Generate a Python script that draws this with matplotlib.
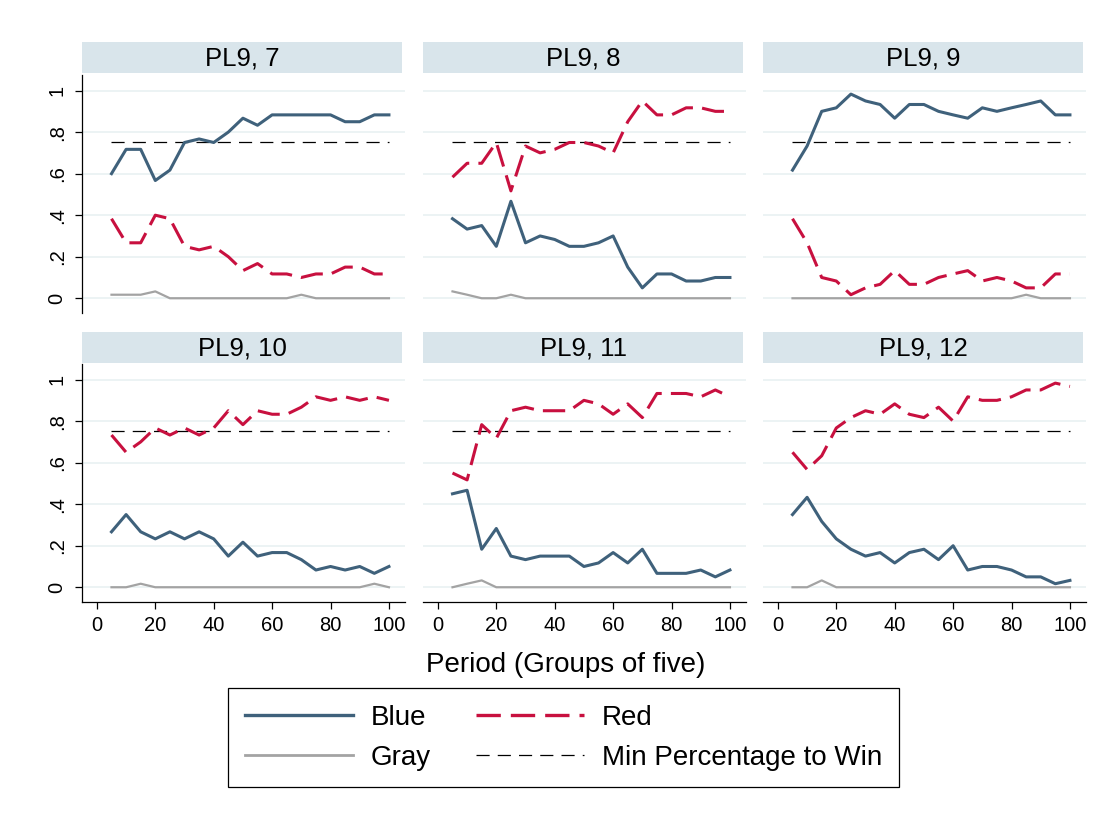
import matplotlib
matplotlib.use("Agg")
import matplotlib.pyplot as plt
from matplotlib.lines import Line2D

plt.rcParams['font.family'] = ['Liberation Sans', 'DejaVu Sans']

# ------------------------------
# data
# ------------------------------
period = [5, 10, 15, 20, 25, 30, 35, 40, 45, 50,
          55, 60, 65, 70, 75, 80, 85, 90, 95, 100]
panel_titles = ["PL9, 7", "PL9, 8", "PL9, 9", "PL9, 10", "PL9, 11", "PL9, 12"]
min_win = 0.75

blue = [
    [0.60, 0.717, 0.717, 0.567, 0.617, 0.75, 0.767, 0.75, 0.80, 0.867,
     0.833, 0.883, 0.883, 0.883, 0.883, 0.883, 0.85, 0.85, 0.883, 0.883],
    [0.383, 0.333, 0.35, 0.25, 0.467, 0.267, 0.30, 0.283, 0.25, 0.25,
     0.267, 0.30, 0.15, 0.05, 0.117, 0.117, 0.083, 0.083, 0.10, 0.10],
    [0.617, 0.733, 0.90, 0.917, 0.983, 0.95, 0.933, 0.867, 0.933, 0.933,
     0.90, 0.883, 0.867, 0.917, 0.90, 0.917, 0.933, 0.95, 0.883, 0.883],
    [0.267, 0.35, 0.267, 0.233, 0.267, 0.233, 0.267, 0.233, 0.15, 0.217,
     0.15, 0.167, 0.167, 0.133, 0.083, 0.10, 0.083, 0.10, 0.067, 0.10],
    [0.45, 0.467, 0.183, 0.283, 0.15, 0.133, 0.15, 0.15, 0.15, 0.10,
     0.117, 0.167, 0.117, 0.183, 0.067, 0.067, 0.067, 0.083, 0.05, 0.083],
    [0.35, 0.433, 0.317, 0.233, 0.183, 0.15, 0.167, 0.117, 0.167, 0.183,
     0.133, 0.20, 0.083, 0.10, 0.10, 0.083, 0.05, 0.05, 0.017, 0.033],
]
red = [
    [0.383, 0.267, 0.267, 0.40, 0.383, 0.25, 0.233, 0.25, 0.20, 0.133,
     0.167, 0.117, 0.117, 0.10, 0.117, 0.117, 0.15, 0.15, 0.117, 0.117],
    [0.583, 0.65, 0.65, 0.75, 0.517, 0.733, 0.70, 0.717, 0.75, 0.75,
     0.733, 0.70, 0.85, 0.95, 0.883, 0.883, 0.917, 0.917, 0.90, 0.90],
    [0.383, 0.267, 0.10, 0.083, 0.017, 0.05, 0.067, 0.133, 0.067, 0.067,
     0.10, 0.117, 0.133, 0.083, 0.10, 0.083, 0.05, 0.05, 0.117, 0.117],
    [0.733, 0.65, 0.70, 0.767, 0.733, 0.767, 0.733, 0.767, 0.85, 0.783,
     0.85, 0.833, 0.833, 0.867, 0.917, 0.90, 0.917, 0.90, 0.917, 0.90],
    [0.55, 0.517, 0.783, 0.717, 0.85, 0.867, 0.85, 0.85, 0.85, 0.90,
     0.883, 0.833, 0.883, 0.817, 0.933, 0.933, 0.933, 0.917, 0.95, 0.917],
    [0.65, 0.567, 0.633, 0.767, 0.817, 0.85, 0.833, 0.883, 0.833, 0.817,
     0.867, 0.80, 0.917, 0.90, 0.90, 0.917, 0.95, 0.95, 0.983, 0.967],
]
gray = [
    [0.017, 0.017, 0.017, 0.033, 0, 0, 0, 0, 0, 0,
     0, 0, 0, 0.017, 0, 0, 0, 0, 0, 0],
    [0.033, 0.017, 0, 0, 0.017, 0, 0, 0, 0, 0,
     0, 0, 0, 0, 0, 0, 0, 0, 0, 0],
    [0, 0, 0, 0, 0, 0, 0, 0, 0, 0,
     0, 0, 0, 0, 0, 0, 0.017, 0, 0, 0],
    [0, 0, 0.017, 0, 0, 0, 0, 0, 0, 0,
     0, 0, 0, 0, 0, 0, 0, 0, 0.017, 0],
    [0, 0.017, 0.033, 0, 0, 0, 0, 0, 0, 0,
     0, 0, 0, 0, 0, 0, 0, 0, 0, 0],
    [0, 0, 0.033, 0, 0, 0, 0, 0, 0, 0,
     0, 0, 0, 0, 0, 0, 0, 0, 0, 0],
]

yticks = [0, 0.2, 0.4, 0.6, 0.8, 1]
ytick_labels = ["0", ".2", ".4", ".6", ".8", "1"]
xticks = [0, 20, 40, 60, 80, 100]

# ------------------------------
# styles
# ------------------------------
C_BLUE = "#3f617b"
C_RED = "#c8103f"
C_GRAY = "#a3a3a3"
C_GRID = "#eaf2f3"
C_STRIP = "#d9e5eb"
RED_DASH = (7.3, 3.0)
MIN_DASH = (10.5, 6.5)

W, H = 1117, 816
fig = plt.figure(figsize=(W / 100, H / 100), dpi=100)


def px_axes(x0, y0, x1, y1):
    # pixel box (top-left origin) -> figure axes
    return fig.add_axes([x0 / W, 1 - y1 / H, (x1 - x0) / W, (y1 - y0) / H])


col_left = [82, 423, 763]
ax_w = 323
rows = [(75, 313, 42, 73), (364, 602, 332, 363)]

for i in range(6):
    r, c = divmod(i, 3)
    top, bot, s_top, s_bot = rows[r]
    x0 = col_left[c]

    # strip header
    sax = px_axes(x0, s_top, x0 + 320, s_bot)
    sax.set_facecolor(C_STRIP)
    sax.set_xticks([])
    sax.set_yticks([])
    for sp in sax.spines.values():
        sp.set_visible(False)
    sax.text(0.5, 0.47, panel_titles[i], ha='center', va='center',
             fontsize=18.5, transform=sax.transAxes)

    ax = px_axes(x0, top, x0 + ax_w, bot)
    ax.set_xlim(-5.1, 105.5)
    ax.set_ylim(-0.071, 1.075)
    for yv in yticks:
        ax.axhline(yv, color=C_GRID, lw=1.3, zorder=0)

    ax.plot(period, [min_win] * len(period), color='black', lw=0.9,
            dashes=MIN_DASH, zorder=2)
    ax.plot(period, gray[i], color=C_GRAY, lw=1.6, zorder=3)
    ax.plot(period, blue[i], color=C_BLUE, lw=2.2, zorder=4)
    ax.plot(period, red[i], color=C_RED, lw=2.2, dashes=RED_DASH, zorder=5)

    for sp in ['top', 'right']:
        ax.spines[sp].set_visible(False)

    if c == 0:
        ax.set_yticks(yticks)
        ax.set_yticklabels(ytick_labels, rotation=90, va='center', fontsize=14.5)
        ax.tick_params(axis='y', length=5, width=0.9, pad=6)
        ax.spines['left'].set_linewidth(0.9)
    else:
        ax.spines['left'].set_visible(False)
        ax.set_yticks([])

    if r == 1:
        ax.set_xticks(xticks)
        ax.set_xticklabels([str(v) for v in xticks], fontsize=14.5)
        ax.tick_params(axis='x', length=5, width=0.9, pad=5)
        ax.spines['bottom'].set_linewidth(0.9)
    else:
        ax.spines['bottom'].set_visible(False)
        ax.set_xticks([])

fig.text(566 / W, 1 - 665 / H, "Period (Groups of five)", ha='center',
         va='center', fontsize=20)

handles = [
    Line2D([], [], color=C_BLUE, lw=2.4),
    Line2D([], [], color=C_GRAY, lw=2.0),
    Line2D([], [], color=C_RED, lw=2.4, dashes=RED_DASH),
    Line2D([], [], color='black', lw=0.9, dashes=MIN_DASH),
]
labels = ["Blue", "Gray", "Red", "Min Percentage to Win"]
leg = fig.legend(handles, labels, ncol=2, loc='upper left',
                 bbox_to_anchor=(228 / W, 1 - 688 / H), borderaxespad=0,
                 fontsize=20, frameon=True, fancybox=False, framealpha=1,
                 edgecolor='black', handlelength=3.9, handletextpad=0.65,
                 columnspacing=1.6, labelspacing=0.5, borderpad=0.6)
leg.get_frame().set_linewidth(0.9)

fig.savefig("out.png", dpi=100)
